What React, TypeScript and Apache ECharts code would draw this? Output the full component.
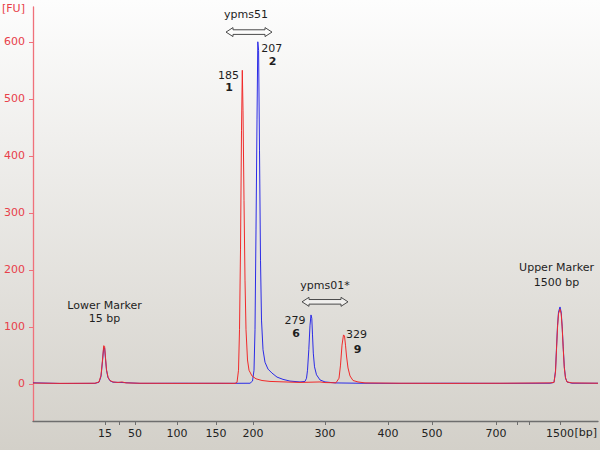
import React, { useEffect, useRef } from "react";
import * as echarts from "echarts";

// Ladder (bp) and the migration time (s) at which each ladder band runs
const ladderBp = [15, 25, 50, 100, 150, 200, 300, 400, 500, 700, 850, 1000, 1500];
const ladderTime = [14.4, 17.2, 20.4, 28.8, 36.6, 44.0, 58.4, 71.0, 79.8, 92.6, 96.8, 99.2, 105.4];
const ladderLabeled = [true, false, true, true, true, true, true, true, true, true, false, false, true];
const fuTicks = [0, 100, 200, 300, 400, 500, 600];

// [time, FU]
const redTrace: [number, number][] = [
  [0, 1.5], [5.4, 1.0], [12.4, 1.2], [13.2, 3.5], [13.6, 15], [13.9, 42], [14.14, 67], [14.32, 66],
  [14.5, 46], [14.7, 25], [15.0, 12], [15.4, 6], [16.0, 3.5], [17.0, 2.6], [17.8, 3.5], [18.6, 1.8],
  [21.4, 1.2], [29.4, 1.0], [37.4, 1.2], [40.4, 1.0], [40.8, 2.6], [41.1, 24], [41.3, 95], [41.5, 235],
  [41.7, 445], [41.86, 550], [42.0, 480], [42.2, 322], [42.4, 182], [42.6, 95], [42.9, 42], [43.2, 24],
  [43.8, 14], [44.6, 9], [45.8, 6], [47.4, 4.4], [50.4, 3.5], [53.4, 2.6], [57.4, 3.5], [58.4, 2.4],
  [60.6, 2], [61.2, 10], [61.5, 33], [61.8, 68], [62.1, 86], [62.3, 84], [62.5, 68], [62.7, 49],
  [63.0, 28], [63.4, 14], [64.0, 6], [65.0, 3.5], [66.4, 1.8], [73.4, 1.2], [83.4, 1.0], [93.4, 1.2],
  [103.4, 1.8], [104.2, 2.6], [104.5, 21], [104.7, 60], [104.9, 98], [105.1, 123], [105.4, 131],
  [105.64, 123], [105.84, 98], [106.04, 63], [106.26, 28], [106.5, 10.5], [106.8, 3.5], [107.8, 1.8],
  [113, 1.2],
];

const blueTrace: [number, number][] = [
  [0, 2], [5.4, 0.8], [12.4, 1.0], [13.2, 3.0], [13.6, 13], [13.9, 40], [14.14, 64], [14.32, 63],
  [14.5, 44], [14.7, 24], [15.0, 11], [15.4, 5.5], [16.0, 3.0], [17.8, 2.5], [21.4, 1.0], [29.4, 1.2],
  [37.4, 1.0], [43.4, 1.2], [43.9, 5], [44.2, 24], [44.4, 95], [44.6, 270], [44.8, 463], [44.96, 600],
  [45.12, 585], [45.3, 410], [45.5, 217], [45.7, 112], [46.0, 60], [46.4, 38], [47.0, 26], [47.8, 19],
  [48.8, 12], [50.0, 8], [51.4, 5], [53.4, 3.5], [54.4, 4.4], [54.7, 10], [54.9, 24], [55.16, 60],
  [55.4, 103], [55.6, 121], [55.76, 115], [55.9, 86], [56.06, 54], [56.3, 30], [56.7, 16], [57.4, 7],
  [58.4, 3.5], [60.4, 1.8], [65.4, 1.2], [73.4, 1.0], [83.4, 1.2], [93.4, 1.0], [103.4, 1.2],
  [104.2, 2.6], [104.5, 23], [104.7, 63], [104.9, 102], [105.1, 126], [105.4, 135], [105.64, 126],
  [105.84, 100], [106.04, 65], [106.26, 30], [106.5, 10.5], [106.8, 3.5], [107.8, 1.2], [113, 1.2],
];

// annotation texts: [time, FU, text, bold]
const annotationTexts: [number, number, string, boolean][] = [
  [42.6, 648, "ypms51", false],
  [39.1, 541, "185", false],
  [39.2, 519, "1", true],
  [47.74, 589, "207", false],
  [47.94, 565, "2", true],
  [58.4, 173, "ypms01*", false],
  [52.4, 112, "279", false],
  [52.6, 89, "6", true],
  [64.7, 86, "329", false],
  [64.9, 61, "9", true],
  [14.3, 138, "Lower Marker", false],
  [14.3, 115, "15 bp", false],
  [104.7, 204, "Upper Marker", false],
  [104.7, 178, "1500 bp", false],
];

// fragment range arrows: [startTime, endTime, FU]
const rangeArrows: [number, number, number][] = [
  [38.6, 47.8, 617],
  [53.8, 63.0, 144],
];

const FONT = '"DejaVu Sans", Verdana, sans-serif';

export default function App() {
  const ref = useRef<HTMLDivElement>(null);
  useEffect(() => {
    if (!ref.current) return;
    const chart = echarts.init(ref.current, undefined, { renderer: "svg" });
    const option: any = {
      animation: false,
      backgroundColor: new echarts.graphic.LinearGradient(0, 0, 0, 1, [
        { offset: 0, color: "#fdfdfd" },
        { offset: 1, color: "#d3d0c9" },
      ]),
      grid: { left: 33, right: 2, top: 7, bottom: 29, containLabel: false },
      xAxis: {
        type: "value",
        min: 0,
        max: 113,
        axisLine: { show: true, onZero: false, lineStyle: { color: "#6e6e6e", width: 1.3 } },
        axisTick: { show: true, customValues: ladderTime, length: 4, lineStyle: { color: "#6e6e6e" } },
        axisLabel: {
          customValues: ladderTime,
          formatter: (val: number) => {
            const i = ladderTime.findIndex((t) => Math.abs(t - val) < 1e-6);
            return i >= 0 && ladderLabeled[i] ? String(ladderBp[i]) : "";
          },
          color: "#222",
          fontSize: 11,
          fontFamily: FONT,
          margin: 7,
        },
        splitLine: { show: false },
      },
      yAxis: {
        type: "value",
        min: -65,
        max: 661,
        axisLine: { show: true, onZero: false, lineStyle: { color: "#f0707a", width: 1.3 } },
        axisTick: { show: true, customValues: fuTicks, length: 4, lineStyle: { color: "#f0707a" } },
        axisLabel: { customValues: fuTicks, color: "#e8404a", fontSize: 11, fontFamily: FONT, margin: 8 },
        splitLine: { show: false },
      },
      series: [
        {
          type: "line",
          data: blueTrace,
          showSymbol: false,
          color: "#2b2be6",
          lineStyle: { color: "#2b2be6", width: 1 },
          z: 2,
          silent: true,
        },
        {
          type: "line",
          data: redTrace,
          showSymbol: false,
          color: "#f02a2a",
          lineStyle: { color: "#f02a2a", width: 1 },
          z: 3,
          silent: true,
        },
      ],
    };
    chart.setOption(option);

    const toPx = (t: number, v: number) =>
      chart.convertToPixel({ xAxisIndex: 0, yAxisIndex: 0 }, [t, v]) as number[];

    const elements: any[] = [];
    annotationTexts.forEach(([t, v, text, bold]) => {
      const [x, y] = toPx(t, v);
      elements.push({
        type: "text",
        x,
        y,
        silent: true,
        style: {
          text,
          fill: "#1e1e1e",
          font: `${bold ? "bold " : ""}11px ${FONT}`,
          textAlign: "center",
          textVerticalAlign: "middle",
          align: "center",
          verticalAlign: "middle",
        },
      });
    });
    rangeArrows.forEach(([t1, t2, v]) => {
      const [x1, y] = toPx(t1, v);
      const [x2] = toPx(t2, v);
      const hl = 7, hh = 4.5, sh = 2.3;
      elements.push({
        type: "polygon",
        silent: true,
        shape: {
          points: [
            [x1, y], [x1 + hl, y - hh], [x1 + hl, y - sh], [x2 - hl, y - sh], [x2 - hl, y - hh],
            [x2, y], [x2 - hl, y + hh], [x2 - hl, y + sh], [x1 + hl, y + sh], [x1 + hl, y + hh],
          ],
        },
        style: { fill: "rgba(255,255,255,0.5)", stroke: "#4a4a4a", lineWidth: 1 },
      });
    });
    elements.push({
      type: "text",
      x: 2,
      y: 8,
      silent: true,
      style: { text: "[FU]", fill: "#e8404a", font: `11px ${FONT}`, textAlign: "left", textVerticalAlign: "middle", align: "left", verticalAlign: "middle" },
    });
    elements.push({
      type: "text",
      x: 597,
      y: 432,
      silent: true,
      style: { text: "[bp]", fill: "#222", font: `11px ${FONT}`, textAlign: "right", textVerticalAlign: "middle", align: "right", verticalAlign: "middle" },
    });
    chart.setOption({ graphic: { elements } });

    return () => chart.dispose();
  }, []);
  return <div ref={ref} style={{ position: "fixed", left: 0, top: 0, width: 600, height: 450 }} />;
}
